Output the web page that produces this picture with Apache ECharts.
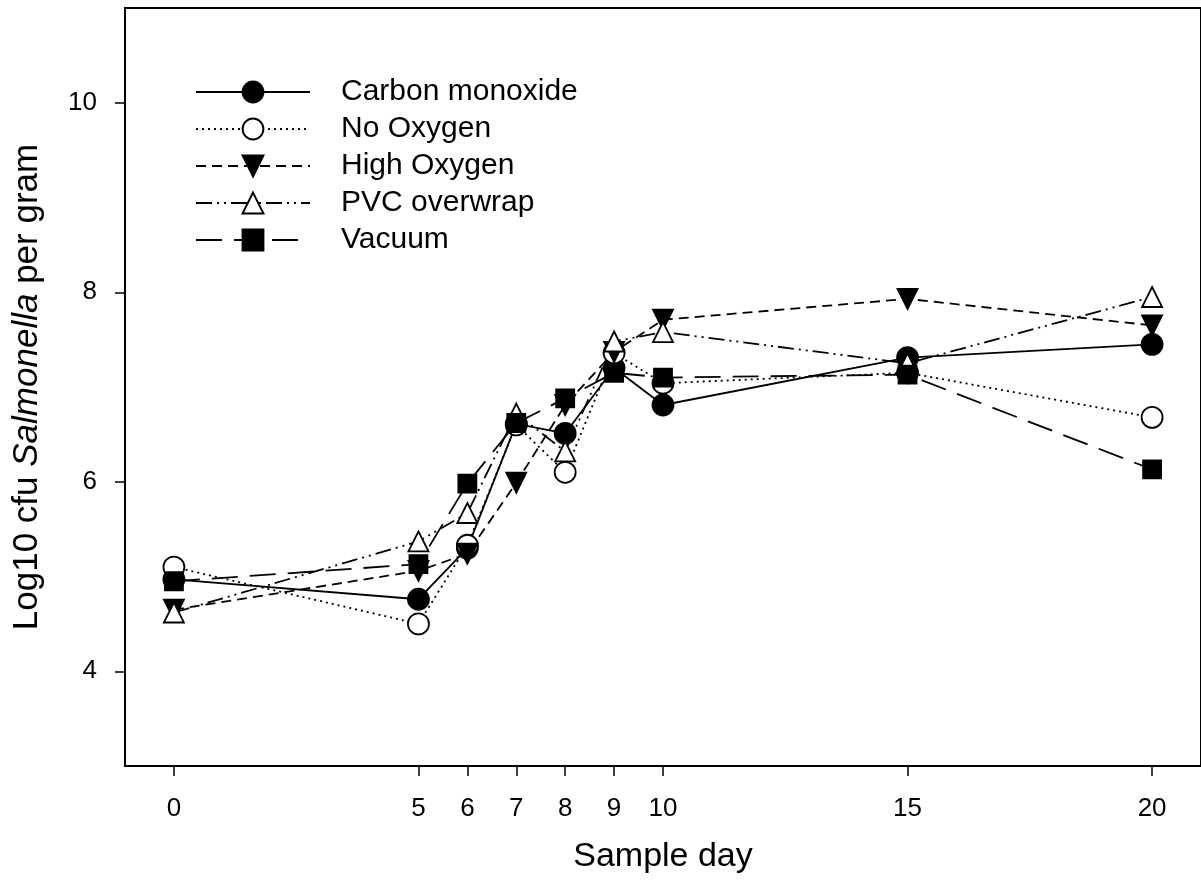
<!DOCTYPE html>
<html>
<head>
<meta charset="utf-8">
<script src="https://cdn.jsdelivr.net/npm/echarts@6/dist/echarts.min.js"></script>
<style>
html,body{margin:0;padding:0;background:#fff;}
#chart{width:1201px;height:884px;}
</style>
</head>
<body>
<div id="chart"></div>
<script>
const days = [0, 5, 6, 7, 8, 9, 10, 15, 20];
const xTicks = [0, 5, 6, 7, 8, 9, 10, 15, 20];
const yTicks = [4, 6, 8, 10];
const seriesNames = ['Carbon monoxide', 'No Oxygen', 'High Oxygen', 'PVC overwrap', 'Vacuum'];
const carbonMonoxide = [4.97, 4.76, 5.30, 6.61, 6.51, 7.20, 6.81, 7.31, 7.45];
const noOxygen       = [5.10, 4.50, 5.33, 6.60, 6.10, 7.36, 7.04, 7.15, 6.68];
const highOxygen     = [4.65, 5.06, 5.24, 5.99, 6.81, 7.37, 7.71, 7.93, 7.65];
const pvcOverwrap    = [4.62, 5.37, 5.67, 6.72, 6.32, 7.48, 7.58, 7.25, 7.95];
const vacuum         = [4.95, 5.13, 5.98, 6.62, 6.88, 7.15, 7.10, 7.13, 6.13];

const FONT = '"Liberation Sans", Arial, Helvetica, sans-serif';
const pair = arr => days.map((d, i) => [d, arr[i]]);

function mk(name, data, symbol, filled, dash, size, rotate) {
  return {
    name: name,
    type: 'line',
    data: pair(data),
    symbol: symbol,
    symbolSize: size,
    symbolRotate: rotate || 0,
    showSymbol: true,
    z: 3,
    lineStyle: { color: '#000', width: 1.8, type: dash },
    itemStyle: { color: filled ? '#000' : '#fff', borderColor: '#000', borderWidth: 1.8, opacity: 1 },
    emphasis: { disabled: true },
    animation: false
  };
}

const chart = echarts.init(document.getElementById('chart'), null, { renderer: 'canvas' });
chart.setOption({
  backgroundColor: '#fff',
  animation: false,
  textStyle: { fontFamily: FONT, color: '#000' },
  grid: {
    left: 125, top: 8, width: 1080, height: 758,
    show: true, borderColor: '#000', borderWidth: 2, backgroundColor: 'transparent'
  },
  legend: {
    left: 190, top: 72, orient: 'vertical',
    itemWidth: 114, itemHeight: 26, itemGap: 7,
    data: seriesNames,
    textStyle: { fontFamily: FONT, fontSize: 30, color: '#000', lineHeight: 30, padding: [0, 0, 0, 26] },
    selectedMode: false
  },
  xAxis: {
    type: 'value', min: -1, max: 21,
    name: 'Sample day', nameLocation: 'middle', nameGap: 74,
    nameTextStyle: { fontFamily: FONT, fontSize: 34, color: '#000' },
    axisLine: { onZero: false, lineStyle: { color: '#000', width: 2 } },
    axisTick: { show: true, customValues: xTicks, length: 10, lineStyle: { color: '#000', width: 1.5 } },
    axisLabel: { customValues: xTicks, fontFamily: FONT, fontSize: 26, color: '#000', margin: 30 },
    splitLine: { show: false }
  },
  yAxis: {
    type: 'value', min: 3, max: 11,
    name: 'Log10 cfu {i|Salmonella} per gram', nameLocation: 'middle', nameGap: 80, nameRotate: 90,
    nameTextStyle: { fontFamily: FONT, fontSize: 35, color: '#000',
      rich: { i: { fontFamily: FONT, fontSize: 35, fontStyle: 'italic', color: '#000' } } },
    axisLine: { onZero: false, lineStyle: { color: '#000', width: 2 } },
    axisTick: { show: true, customValues: yTicks, length: 10, lineStyle: { color: '#000', width: 1.5 } },
    axisLabel: { customValues: yTicks, fontFamily: FONT, fontSize: 26, color: '#000', margin: 28 },
    splitLine: { show: false }
  },
  series: [
    mk(seriesNames[0], carbonMonoxide, 'circle', true, 'solid', 21),
    mk(seriesNames[1], noOxygen, 'circle', false, [2, 4], 21),
    mk(seriesNames[2], highOxygen, 'triangle', true, [10, 6], 20, 180),
    mk(seriesNames[3], pvcOverwrap, 'triangle', false, [16, 5, 2, 5, 2, 5], 20),
    mk(seriesNames[4], vacuum, 'rect', true, [26, 12], 18)
  ]
});
</script>
</body>
</html>
